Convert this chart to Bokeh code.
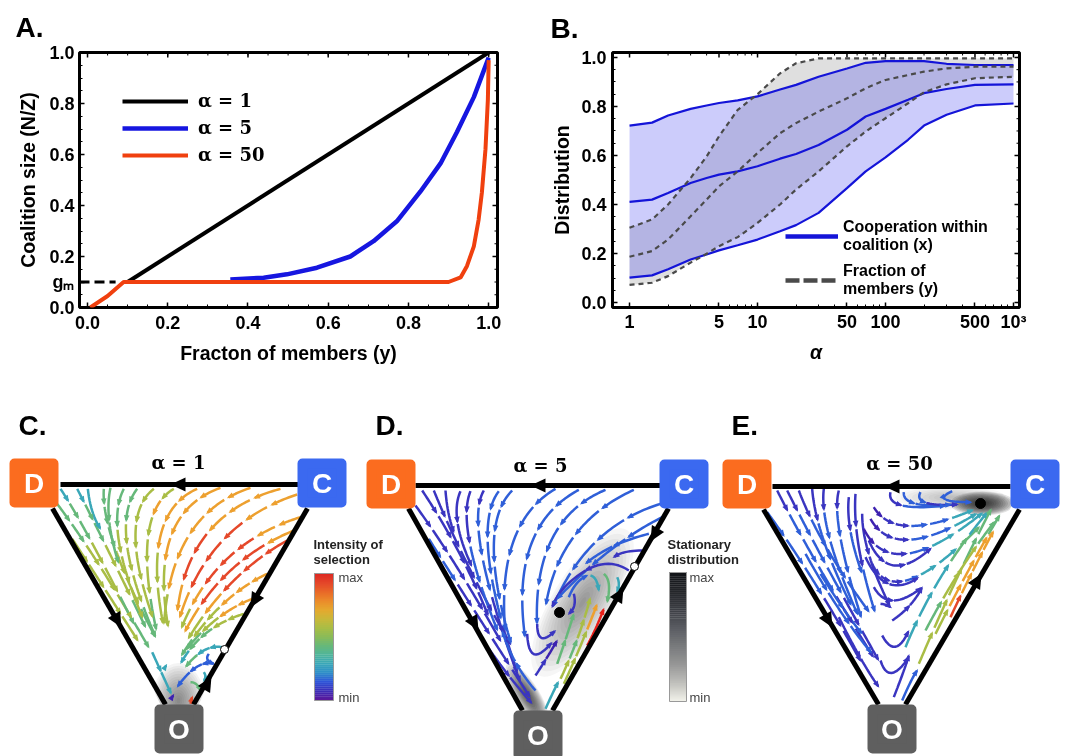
from bokeh.plotting import figure
from bokeh.layouts import column, row
from bokeh.models import (Range1d, FixedTicker, Legend, LegendItem)
from bokeh.core.properties import value
from bokeh.embed import file_html
from bokeh.resources import INLINE
import math

# ---------- Panel A data ----------
a_black_x = [0.1, 1.0]
a_black_y = [0.1, 1.0]
a_blue_x = [0.356, 0.439, 0.497, 0.572, 0.655, 0.713, 0.771, 0.83, 0.88, 0.921, 0.963, 1.0]
a_blue_y = [0.11, 0.117, 0.13, 0.156, 0.2, 0.26, 0.338, 0.455, 0.565, 0.688, 0.825, 0.98]
a_red_x = [0.007, 0.05, 0.09, 0.11, 0.5, 0.9, 0.93, 0.946, 0.963, 0.975, 0.983, 0.992, 0.998, 1.0]
a_red_y = [0.0, 0.045, 0.1, 0.1, 0.1, 0.1, 0.118, 0.163, 0.24, 0.345, 0.45, 0.62, 0.815, 0.97]
a_ticks = [0.0, 0.2, 0.4, 0.6, 0.8, 1.0]
a_ticklabels = ["0.0", "0.2", "0.4", "0.6", "0.8", "1.0"]
a_labels = ["\u03b1 = 1", "\u03b1 = 5", "\u03b1 = 50"]

# ---------- Panel B data ----------
alpha = [1, 1.5, 2, 3, 4, 5, 7, 10, 15, 20, 30, 50, 70, 100, 150, 200, 300, 500, 1000]
x_upper = [.722, .734, .763, .790, .804, .814, .825, .841, .869, .888, .921, .955, .978, .985, .985, .985, .974, .969, .969]
x_mid = [.411, .420, .447, .488, .508, .522, .535, .556, .587, .606, .643, .705, .759, .790, .827, .854, .871, .888, .890]
x_lower = [.102, .111, .136, .176, .196, .213, .234, .257, .291, .316, .366, .467, .535, .592, .664, .722, .766, .804, .812]
y_upper = [.305, .339, .40, .508, .596, .678, .786, .85, .935, .976, .996, .996, .996, .996, .996, .996, .996, .996, .996]
y_mid = [.187, .210, .257, .352, .42, .474, .535, .61, .691, .732, .779, .833, .874, .908, .928, .942, .955, .962, .962]
y_lower = [.072, .081, .108, .163, .199, .230, .267, .325, .400, .461, .535, .637, .698, .752, .813, .858, .890, .915, .921]
b_xticks = [1, 5, 10, 50, 100, 500, 1000]
b_xlabels = ["1", "5", "10", "50", "100", "500", "10\u00b3"]
b_yticks = [0.0, 0.2, 0.4, 0.6, 0.8, 1.0]

# ---------- Panels C, D, E streamlines: x0, y0, ctrl x, ctrl y, x1, y1, colour letters (one per dash) ----------
PAL = {"P": "#3d22b0", "V": "#3a35c0", "B": "#2f5fd8", "T": "#3aa7b8", "G": "#66b87a",
       "Y": "#a9bd45", "O": "#eda02f", "R": "#e5482a", "D": "#e8201a"}

c_streams = [
    (215, 415, 310, 560, 415, 725, "YYYY"),
    (170, 310, 290, 470, 450, 750, "GGYYYG"),
    (455, 755, 480, 810, 512, 880, "TT"),
    (180, 265, 250, 370, 405, 680, "TGGYYG"),
    (230, 265, 290, 380, 440, 690, "TGGYYG"),
    (262, 265, 270, 340, 300, 385, "T"),
    (310, 265, 300, 400, 470, 720, "GGGYYG"),
    (330, 262, 310, 350, 355, 490, "GG"),
    (370, 265, 310, 380, 430, 660, "GGYYY"),
    (410, 265, 320, 380, 470, 720, "GGYYYG"),
    (460, 265, 350, 350, 460, 660, "YYYYY"),
    (520, 265, 390, 340, 470, 700, "YOYYYG"),
    (590, 265, 420, 340, 490, 680, "OOOYY"),
    (660, 262, 440, 340, 505, 690, "OOOOYY"),
    (750, 262, 510, 340, 490, 680, "OOOOOY"),
    (840, 265, 560, 340, 530, 640, "OOORRO"),
    (890, 282, 620, 370, 535, 660, "OORRRO"),
    (900, 350, 640, 430, 540, 690, "OORRROY"),
    (880, 390, 660, 480, 550, 700, "ORRRO"),
    (860, 420, 680, 520, 560, 720, "RRROY"),
    (800, 520, 650, 590, 540, 770, "OOOYYG"),
    (770, 590, 650, 630, 555, 750, "OOYG"),
    (730, 640, 600, 680, 540, 790, "YYGGT"),
    (665, 740, 610, 730, 555, 800, "TTG"),
    (640, 790, 590, 775, 530, 860, "BBB"),
    (625, 760, 610, 780, 640, 790, "B"),
    (610, 815, 620, 830, 610, 840, "T"),
    (570, 845, 590, 845, 600, 870, "G"),
    (570, 910, 572, 900, 575, 890, "R"),
    (515, 890, 516, 888, 518, 885, "P"),
    (495, 800, 495, 798, 497, 795, "T"),
]

d_streams = [
    (180, 315, 300, 480, 440, 730, "VVVVV"),
    (220, 415, 330, 590, 530, 900, "BBVVVV"),
    (200, 270, 320, 450, 400, 650, "VVVVV"),
    (235, 270, 320, 480, 470, 740, "VVVVV"),
    (270, 270, 275, 340, 295, 395, "V"),
    (315, 272, 280, 350, 350, 500, "VV"),
    (345, 272, 300, 380, 430, 700, "VVBB"),
    (385, 270, 320, 380, 500, 860, "VBBBVV"),
    (430, 272, 340, 390, 490, 830, "BBBBV"),
    (470, 270, 360, 380, 470, 740, "BBBBB"),
    (600, 265, 420, 370, 450, 700, "BBBBB"),
    (670, 268, 460, 380, 510, 720, "BBBBB"),
    (515, 700, 520, 810, 590, 725, "V"),
    (750, 268, 530, 360, 545, 680, "BBBBB"),
    (545, 670, 545, 745, 600, 690, "V"),
    (835, 268, 610, 370, 570, 620, "BBBB"),
    (915, 310, 690, 380, 590, 625, "BBBB"),
    (920, 350, 760, 430, 600, 600, "BBB"),
    (880, 400, 760, 430, 690, 490, "BB"),
    (860, 450, 800, 450, 775, 470, "V"),
    (820, 510, 760, 470, 690, 510, "V"),
    (690, 510, 610, 560, 590, 620, "V"),
    (655, 580, 665, 620, 640, 640, "V"),
    (640, 590, 660, 540, 695, 525, "B"),
    (705, 525, 725, 530, 730, 570, "T"),
    (745, 520, 770, 540, 755, 605, "G"),
    (785, 530, 795, 550, 785, 575, "T"),
    (540, 825, 570, 780, 605, 720, "VP"),
    (605, 790, 630, 720, 655, 640, "GG"),
    (615, 835, 670, 720, 705, 590, "YGYY"),
    (625, 850, 680, 730, 725, 610, "YYO"),
    (695, 735, 720, 690, 745, 625, "D"),
    (570, 925, 590, 880, 608, 845, "T"),
    (400, 745, 460, 830, 530, 910, "VV"),
    (540, 870, 470, 790, 440, 690, "BB"),
]

e_streams = [
    (185, 335, 320, 520, 470, 790, "BBBVV"),
    (215, 270, 310, 460, 510, 780, "VBBBVV"),
    (245, 270, 340, 460, 525, 790, "VBBBVV"),
    (280, 270, 340, 430, 495, 640, "VBBB"),
    (320, 265, 330, 400, 440, 620, "VBB"),
    (355, 265, 340, 380, 460, 650, "VBBB"),
    (400, 270, 375, 360, 470, 660, "VBBB"),
    (430, 290, 420, 380, 470, 520, "VB"),
    (450, 280, 440, 420, 510, 640, "VVB"),
    (470, 340, 470, 450, 555, 620, "VV"),
    (300, 460, 400, 640, 500, 760, "BBB"),
    (345, 520, 420, 640, 470, 700, "BB"),
    (400, 650, 470, 790, 520, 860, "VV"),
    (505, 320, 570, 430, 810, 325, "PVVBBT"),
    (495, 355, 570, 490, 820, 335, "PVVBBT"),
    (475, 385, 560, 560, 840, 330, "PVVBTT"),
    (500, 490, 570, 640, 830, 370, "VVVBTTG"),
    (490, 420, 550, 560, 680, 440, "VVV"),
    (480, 470, 540, 600, 640, 530, "VV"),
    (505, 560, 550, 640, 650, 560, "VV"),
    (525, 610, 545, 612, 555, 620, "V"),
    (555, 275, 540, 335, 725, 315, "VB"),
    (595, 275, 590, 325, 740, 312, "BB"),
    (645, 275, 620, 320, 760, 312, "BV"),
    (740, 272, 670, 305, 800, 305, "BB"),
    (560, 660, 620, 620, 650, 560, "VV"),
    (530, 705, 570, 780, 610, 690, "V"),
    (525, 780, 550, 860, 610, 770, "V"),
    (565, 890, 600, 800, 610, 765, "V"),
    (600, 740, 690, 520, 850, 330, "TTTGT"),
    (640, 790, 750, 530, 860, 320, "YYYGG"),
    (660, 690, 760, 500, 870, 360, "GYYG"),
    (690, 700, 790, 500, 885, 340, "YOOOG"),
    (735, 650, 800, 510, 865, 390, "ROOO"),
    (590, 900, 620, 830, 635, 810, "B"),
]

# triangle geometry
c_tri = dict(D=(9, 458), C=(297, 458), O=(154, 704), top=484, l=(52, 508), lb=(165, 704), r=(307, 508), rb=(193, 704), tl=60, tr=298)
d_tri = dict(D=(366, 459), C=(659, 459), O=(513, 710), top=485, l=(408, 508), lb=(522, 710), r=(668, 508), rb=(552, 710), tl=415, tr=660)
e_tri = dict(D=(722, 459), C=(1010, 459), O=(867, 704), top=486, l=(763, 509), lb=(878, 704), r=(1019, 509), rb=(905, 704), tl=772, tr=1010)
# arrowheads on the triangle edges: x, y, direction (dx, dy)
c_arrows = [(178, 484, -1, 0), (254, 600, -.5, .87), (117, 620, .5, .87), (207, 683, .5, -.87)]
d_arrows = [(538, 485, -1, 0), (654, 534, -.5, .87), (619, 594, .5, -.87), (474, 623, .5, .87)]
e_arrows = [(892, 486, -1, 0), (977, 580, .5, -.87), (828, 620, .5, .87)]

rainbow = [(90, 24, 154), (58, 47, 184), (47, 85, 216), (47, 143, 200), (58, 167, 184), (79, 181, 154), (102, 184, 122),
           (138, 187, 88), (169, 189, 69), (200, 184, 58), (228, 169, 47), (235, 140, 43), (233, 106, 40), (229, 72, 42), (221, 42, 34)]
greys = [(240, 240, 232), (190, 190, 186), (150, 150, 150), (120, 122, 124), (90, 92, 98), (60, 62, 68), (36, 38, 42), (18, 20, 24)]

# ---------- figure helpers ----------
FONT = "Liberation Sans"
BLUR = {"filter": "blur(0.5px)"}


def style_axis(ax, ticks, minor):
    ax.ticker = FixedTicker(ticks=ticks, minor_ticks=minor)
    ax.axis_line_color = None
    ax.major_tick_in = 5
    ax.major_tick_out = 0
    ax.minor_tick_in = 3
    ax.minor_tick_out = 0
    ax.major_tick_line_color = "black"
    ax.major_tick_line_width = 1.5
    ax.minor_tick_line_color = "black"
    ax.minor_tick_line_width = 1
    ax.major_label_text_font = FONT
    ax.major_label_text_font_style = "bold"
    ax.major_label_text_font_size = "18px"
    ax.major_label_text_color = "black"
    ax.axis_label_text_font = FONT
    ax.axis_label_text_font_style = "bold"
    ax.axis_label_text_font_size = "19.5px"
    ax.axis_label_text_color = "black"


def style_title(p, offset, standoff):
    p.title.text_font = FONT
    p.title.text_font_style = "bold"
    p.title.text_font_size = "28px"
    p.title.text_color = "black"
    p.title.align = "left"
    p.title.offset = offset
    p.title.standoff = standoff


def opposite_ticks(p, xt, xm, yt, ym, xtop, xright, dx, dy, log_x=False):
    # ticks along the top and right frame edges
    p.segment(xt, [xtop] * len(xt), xt, [xtop - dy * 5] * len(xt), line_color="black", line_width=1.5)
    p.segment(xm, [xtop] * len(xm), xm, [xtop - dy * 3] * len(xm), line_color="black", line_width=1)
    if log_x:
        x5, x3 = xright * 10 ** (-dx * 5), xright * 10 ** (-dx * 3)
    else:
        x5, x3 = xright - dx * 5, xright - dx * 3
    p.segment([xright] * len(yt), yt, [x5] * len(yt), yt, line_color="black", line_width=1.5)
    p.segment([xright] * len(ym), ym, [x3] * len(ym), ym, line_color="black", line_width=1)


# ---------- Panel A ----------
pa = figure(width=530, height=375, output_backend="svg", toolbar_location=None, title="A.",
            x_range=Range1d(-0.02, 1.022), y_range=Range1d(0, 1.0),
            min_border_left=79, min_border_right=33, min_border_top=0, min_border_bottom=67,
            outline_line_color="black", outline_line_width=3, styles=BLUR)
style_title(pa, -64, 19)
pa.grid.visible = False
a_minor = [i / 20 for i in range(21)]
style_axis(pa.xaxis[0], a_ticks, a_minor)
style_axis(pa.yaxis[0], a_ticks + [0.1], a_minor)
pa.xaxis[0].major_label_overrides = dict(zip(a_ticks, a_ticklabels))
pa.yaxis[0].major_label_overrides = {**dict(zip(a_ticks, a_ticklabels)), 0.1: "g\u2098"}
pa.xaxis[0].axis_label = "Fracton of members (y)"
pa.yaxis[0].axis_label = "Coalition size (N/Z)"
pa.xaxis[0].major_label_standoff = 8
pa.yaxis[0].major_label_standoff = 5
pa.xaxis[0].axis_label_standoff = 10
pa.yaxis[0].axis_label_standoff = 7
opposite_ticks(pa, a_ticks, a_minor, a_ticks, a_minor, 1.0, 1.022, 1 / 401, 1 / 256)
pa.line([-0.02, 0.07], [0.1, 0.1], line_color="black", line_width=3, line_dash="10 5")
r1 = pa.line(a_black_x, a_black_y, line_color="black", line_width=4)
r2 = pa.line(a_blue_x, a_blue_y, line_color="#1616e0", line_width=4.5)
r3 = pa.line(a_red_x, a_red_y, line_color="#f0400f", line_width=4)
leg = Legend(items=[LegendItem(label=a_labels[0], renderers=[r1]), LegendItem(label=a_labels[1], renderers=[r2]),
                    LegendItem(label=a_labels[2], renderers=[r3])],
             location=(43, 142), padding=0, margin=0, border_line_color=None, background_fill_alpha=0,
             glyph_width=66, glyph_height=20, spacing=6, label_standoff=10, label_text_color="black",
             label_text_font="DejaVu Serif", label_text_font_style="bold", label_text_font_size="18px")
pa.add_layout(leg, "center")

# ---------- Panel B ----------
pb = figure(width=535, height=375, output_backend="svg", toolbar_location=None, x_axis_type="log", title="B.",
            x_range=Range1d(0.736, 1114), y_range=Range1d(-0.02, 1.02),
            min_border_left=82, min_border_right=46, min_border_top=0, min_border_bottom=68,
            outline_line_color="black", outline_line_width=3, styles=BLUR)
style_title(pb, -62, 18)
pb.grid.visible = False
b_minor = [2, 3, 4, 6, 7, 8, 9, 20, 30, 40, 60, 70, 80, 90, 200, 300, 400, 600, 700, 800, 900]
bv_minor = [i / 20 for i in range(21)]
style_axis(pb.xaxis[0], b_xticks, b_minor)
style_axis(pb.yaxis[0], b_yticks, bv_minor)
pb.xaxis[0].major_label_overrides = dict(zip(b_xticks, b_xlabels))
pb.yaxis[0].major_label_overrides = dict(zip(b_yticks, a_ticklabels))
pb.xaxis[0].axis_label = "\u03b1"
pb.xaxis[0].axis_label_text_font_style = "bold italic"
pb.yaxis[0].axis_label = "Distribution"
pb.xaxis[0].major_label_standoff = 4
pb.yaxis[0].major_label_standoff = 6
pb.xaxis[0].axis_label_standoff = 6
pb.yaxis[0].axis_label_standoff = 5
opposite_ticks(pb, b_xticks, b_minor, b_yticks, bv_minor, 1.02, 1114, 1 / 128, 1 / 246, log_x=True)
pb.varea(alpha, y_lower, y_upper, fill_color="#808080", fill_alpha=0.25)
pb.varea(alpha, x_lower, x_upper, fill_color="#3333ee", fill_alpha=0.25)
for ys in (x_upper, x_mid, x_lower):
    pb.line(alpha, ys, line_color="#1414d8", line_width=2.2)
for ys in (y_upper, y_mid, y_lower):
    pb.line(alpha, ys, line_color="#4a4a4a", line_width=2.2, line_dash="5 4")
# key samples only, placed left of the visible range
gl_leg = pb.line([0.01, 0.02], [0.5, 0.5], line_color="#4a4a4a", line_width=4.5, line_dash="14 4")
bl_leg = pb.line([0.01, 0.02], [0.5, 0.5], line_color="#1414d8", line_width=4.5)
leg_b = Legend(items=[LegendItem(label="Cooperation within\ncoalition (x)", renderers=[bl_leg]),
                      LegendItem(label="Fraction of\nmembers (y)", renderers=[gl_leg])],
               location=(173, 9), padding=0, margin=0, border_line_color=None, background_fill_alpha=0,
               glyph_width=53, glyph_height=20, spacing=8, label_standoff=5, label_text_color="black",
               label_text_font=FONT, label_text_font_style="bold", label_text_font_size="16px", label_text_line_height=1.3)
pb.add_layout(leg_b, "center")

# ---------- Panels C, D, E in one figure, coordinates are picture pixels ----------
pt = figure(width=1065, height=381, output_backend="svg", toolbar_location=None,
            x_range=Range1d(0, 1065), y_range=Range1d(756, 375), x_axis_type=None, y_axis_type=None,
            min_border=0, outline_line_color=None, styles=BLUR)
pt.grid.visible = False


def shade(cx, cy, w, h, ang, alpha_step, n=14):
    for k in range(n):
        f = 1 - k / n
        pt.ellipse(x=cx, y=cy, width=w * f, height=h * f, angle=ang, fill_color="#202020",
                   fill_alpha=alpha_step, line_color=None)


def mask(t):
    lt, lb, rt, rb = t["l"], t["lb"], t["r"], t["rb"]
    pt.patch([lt[0] - 20, lt[0], lb[0], lb[0], lb[0] - 90], [t["top"] + 4, t["top"] + 4, lb[1] + 10, lb[1] + 60, lb[1] + 60],
             fill_color="white", line_color=None)
    pt.patch([rt[0] + 20, rt[0], rb[0], rb[0], rb[0] + 90], [t["top"] + 4, t["top"] + 4, rb[1] + 10, rb[1] + 60, rb[1] + 60],
             fill_color="white", line_color=None)
    pt.patch([t["l"][0] - 10, t["r"][0] + 10, t["r"][0] + 10, t["l"][0] - 10], [t["top"] - 30, t["top"] - 30, t["top"], t["top"]],
             fill_color="white", line_color=None)


def draw_streams(streams, ox, oy):
    xs, ys, cols, hx, hy, hc = [], [], [], [], [], []
    for x0, y0, cx, cy, x1, y1, letters in streams:
        n = len(letters)
        for i, ch in enumerate(letters):
            t0 = i / n + (0.012 if i else 0)
            t1 = (i + 1) / n - 0.02
            px, py = [], []
            for k in range(13):
                t = t0 + (t1 - t0) * k / 12
                px.append(ox + ((1 - t) ** 2 * x0 + 2 * t * (1 - t) * cx + t ** 2 * x1) / 3)
                py.append(oy + ((1 - t) ** 2 * y0 + 2 * t * (1 - t) * cy + t ** 2 * y1) / 3)
            xs.append(px); ys.append(py); cols.append(PAL[ch])
            dx, dy = px[-1] - px[-3], py[-1] - py[-3]
            m = math.hypot(dx, dy) or 1
            dx, dy = dx / m, dy / m
            ex, ey = px[-1] + dx * 2, py[-1] + dy * 2
            hx.append([ex, ex - dx * 7 - dy * 2.8, ex - dx * 7 + dy * 2.8])
            hy.append([ey, ey - dy * 7 + dx * 2.8, ey - dy * 7 - dx * 2.8])
            hc.append(PAL[ch])
    pt.multi_line(xs, ys, line_color=cols, line_width=2.5)
    pt.patches(hx, hy, fill_color=hc, line_color=None)


def edges(t, arrows):
    pt.segment([t["tl"], t["l"][0], t["r"][0]], [t["top"], t["l"][1], t["r"][1]],
               [t["tr"], t["lb"][0], t["rb"][0]], [t["top"], t["lb"][1], t["rb"][1]], line_color="black", line_width=5)
    hx, hy = [], []
    for x, y, dx, dy in arrows:
        hx.append([x + dx * 8, x - dx * 7 - dy * 7, x - dx * 7 + dy * 7])
        hy.append([y + dy * 8, y - dy * 7 + dx * 7, y - dy * 7 - dx * 7])
    pt.patches(hx, hy, fill_color="black", line_color=None)


def boxes(t):
    for key, col in (("D", "#fb6c1f"), ("C", "#3b69f0"), ("O", "#5f5f5f")):
        x, y = t[key]
        pt.quad(left=[x + 5], right=[x + 44], top=[y + 5], bottom=[y + 44], fill_color=col, line_color=col,
                line_width=10, line_join="round")
        pt.text([x + 24.5], [y + 25], text=[key], text_color="white", text_font=value(FONT), text_font_style="bold",
                text_font_size="28px", text_align="center", text_baseline="middle")


def alpha_label(x, y, s):
    pt.text([x], [y], text=["\u03b1 = " + s], text_color="black", text_font=value("DejaVu Serif"), text_font_style="bold",
            text_font_size="18px", text_align="center", text_baseline="middle")


def gradient_bar(colors, left, right, y_bottom, y_top, steps=64):
    lefts, rights, bots, tops, fills = [], [], [], [], []
    h = (y_bottom - y_top) / steps
    for i in range(steps):
        f = i / (steps - 1) * (len(colors) - 1)
        j = min(int(f), len(colors) - 2)
        w = f - j
        c = [round(colors[j][a] * (1 - w) + colors[j + 1][a] * w) for a in range(3)]
        fills.append("#%02x%02x%02x" % tuple(c))
        lefts.append(left); rights.append(right)
        bots.append(y_bottom - i * h); tops.append(y_bottom - (i + 1) * h - 0.4)
    pt.quad(left=lefts, right=rights, bottom=bots, top=tops, fill_color=fills, line_color=None)
    pt.quad(left=[left], right=[right], bottom=[y_bottom], top=[y_top], fill_color=None, line_color="#999999", line_width=1)


# shading
shade(178, 700, 52, 75, 0, 0.05)
shade(582, 602, 60, 170, -0.55, 0.04)
shade(527, 695, 24, 75, 0.55, 0.09)
shade(950, 497, 110, 24, 0, 0.03, 10)
shade(982, 503, 65, 24, 0, 0.13)
mask(c_tri); mask(d_tri); mask(e_tri)
draw_streams(c_streams, 0, 400)
draw_streams(d_streams, 355, 400)
draw_streams(e_streams, 705, 400)
edges(c_tri, c_arrows); edges(d_tri, d_arrows); edges(e_tri, e_arrows)
boxes(c_tri); boxes(d_tri); boxes(e_tri)
alpha_label(178, 462, "1"); alpha_label(540, 465, "5"); alpha_label(899, 463, "50")
pt.scatter([559, 980], [612, 503], size=10, marker="circle", fill_color="black", line_color="black")
pt.scatter([224, 634], [649, 566], size=8, marker="circle", fill_color="white", line_color="black", line_width=1)

# colour bars
gradient_bar(rainbow, 314, 333, 700, 573)
gradient_bar(greys, 669, 686, 701, 572)
for x, y, s in ((313, 544, "Intensity of"), (313, 559, "selection"), (667, 544, "Stationary"), (667, 559, "distribution")):
    pt.text([x], [y], text=[s], text_color="#222222", text_font=value(FONT), text_font_style="bold", text_font_size="13px",
            text_baseline="middle")
for x, y, s in ((338, 577, "max"), (338, 697, "min"), (689, 577, "max"), (689, 697, "min")):
    pt.text([x], [y], text=[s], text_color="#444444", text_font=value(FONT), text_font_size="13px", text_baseline="middle")
for x, y, s in ((18, 425, "C."), (375, 425, "D."), (731, 425, "E.")):
    pt.text([x], [y], text=[s], text_color="black", text_font=value(FONT), text_font_style="bold", text_font_size="28px",
            text_baseline="middle")

root = column(row(pa, pb, spacing=0), pt, spacing=0)
open("out.html", "w").write(file_html(root, INLINE))
